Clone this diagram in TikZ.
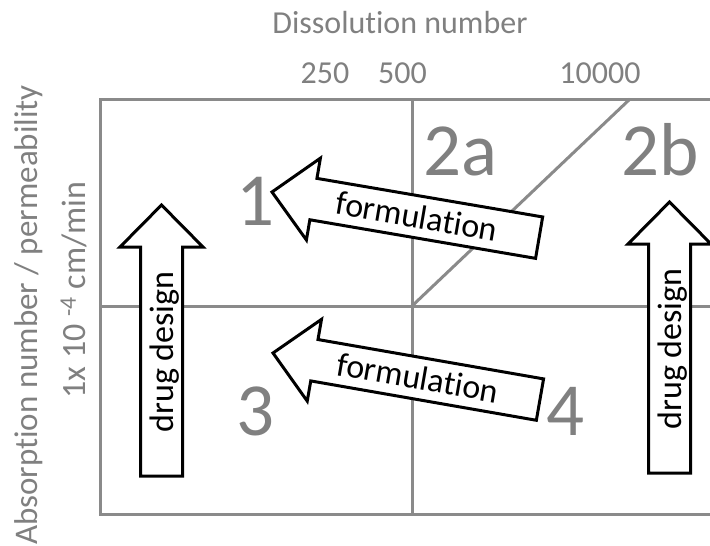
\documentclass[tikz,border=0pt]{standalone}
\usepackage{fontspec}
\setmainfont{Carlito}[Ligatures={NoCommon,NoRare,NoContextual}]
\definecolor{labelgray}{RGB}{128,128,128}
\definecolor{gridgray}{RGB}{138,138,138}
\begin{document}
\begin{tikzpicture}[x=1pt,y=-1pt,
  gridline/.style={draw=gridgray, line width=3pt, line join=miter},
  axislabel/.style={text=labelgray, font=\fontsize{32}{38}\selectfont, inner sep=0pt, anchor=base},
  ylabel/.style={text=labelgray, font=\fontsize{33}{40}\selectfont, inner sep=0pt, anchor=base},
  region/.style={text=labelgray, font=\fontsize{75}{90}\selectfont, inner sep=0pt, anchor=base},
  arrowline/.style={draw=black, line width=3pt, fill=white, line join=miter},
  armlabel/.style={font=\fontsize{34}{40}\selectfont, inner sep=0pt, anchor=base},
  % block arrow: tip at the origin, tail along +x; #1 text, #2 text angle, #3 baseline offset
  pics/blockarrow/.style n args={3}{code={
    \draw[arrowline] (0,0) -- (42,-41.5) -- (42,-21) -- (271,-21)
      -- (271,21) -- (42,21) -- (42,41.5) -- cycle;
    \node[armlabel, rotate=#2] (-label) at (147,#3) {#1};
  }}]
\useasboundingbox (0,0) rectangle (710,546);

% chart frame, open on the right
\draw[gridline] (710,99) -- (100,99) -- (100,514) -- (710,514);
\draw[gridline] (412,99) -- (412,514);
\draw[gridline] (100,306) -- (710,306);
\draw[gridline] (412,306) -- (630,99);

% axis titles and tick values
\node[axislabel] (xtitle) at (400,33) {Dissolution number};
\node[axislabel] (t250) at (325,83) {250};
\node[axislabel] (t500) at (402.5,83) {500};
\node[axislabel] (t10000) at (600,83) {10000};
\node[ylabel, rotate=90] (ytitle) at (37,315) {Absorption number / permeability};
\node[axislabel, rotate=90, font=\fontsize{34}{40}\selectfont] (yunit) at (85,290) {1x 10 \textsuperscript{-4} cm/min};

% region numbers
\node[region] (r1) at (256,225) {1};
\node[region] (r2a) at (460,175) {2a};
\node[region] (r2b) at (660,175) {2b};
\node[region] (r3) at (256,435) {3};
\node[region] (r4) at (565.5,435) {4};

% block arrows
\pic[rotate=-9.7] (formA) at (272,192) {blockarrow={formulation}{-9.7}{11}};
\pic[rotate=-9.9] (formB) at (273,353) {blockarrow={formulation}{-9.9}{11}};
\pic[rotate=-90] (designL) at (161.5,205) {blockarrow={drug design}{90}{-12}};
\pic[rotate=-90] (designR) at (669.5,202) {blockarrow={drug design}{90}{-12}};
\end{tikzpicture}
\end{document}
